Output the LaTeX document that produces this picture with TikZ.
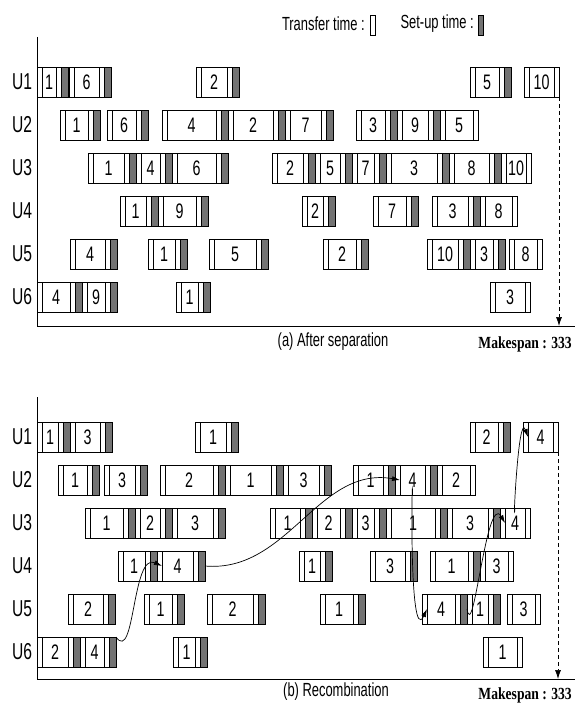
\documentclass[tikz,border=0pt]{standalone}
\usepackage{fontspec}
\usetikzlibrary{arrows.meta}
\newfontfamily\narrowfont[FakeStretch=0.68]{Liberation Sans}
\newfontfamily\spanfont[FakeStretch=0.8]{Liberation Serif}

% one operation: transfer | job | transfer | set-up
\newcommand{\jobop}[5]{% name, left x, row y, box width, label
  \draw[trf] (#2,#3-15) rectangle ++(5,30);
  \node[jobbox, minimum width=#4pt, anchor=west] (#1) at ({#2+5},#3) {#5};
  \draw[trf] ({#2+5+#4},#3-15) rectangle ++(5,30);
  \node[setup, anchor=west] (#1s) at ({#2+10+#4},#3) {};}
% last operation of a run: no set-up after it
\newcommand{\jobend}[5]{%
  \draw[trf] (#2,#3-15) rectangle ++(5,30);
  \node[jobbox, minimum width=#4pt, anchor=west] (#1) at ({#2+5},#3) {#5};
  \draw[trf] ({#2+5+#4},#3-15) rectangle ++(5,30);}

\begin{document}
\begin{tikzpicture}[x=1pt,y=1pt,yscale=-1,
  trf/.style={draw, fill=white, line width=0.8pt},
  setup/.style={draw, fill=black!55, line width=0.8pt, minimum width=7pt, minimum height=30pt, inner sep=0pt, outer sep=0pt},
  jobbox/.style={draw, fill=white, line width=0.8pt, minimum height=30pt, inner sep=0pt, outer sep=0pt, font=\narrowfont\fontsize{21}{21}\selectfont},
  ulabel/.style={font=\narrowfont\fontsize{23}{23}\selectfont, inner sep=0pt},
  txt/.style={font=\narrowfont\fontsize{19}{19}\selectfont, inner sep=0pt},
  span/.style={font=\spanfont\bfseries\fontsize{17}{17}\selectfont, inner sep=0pt, anchor=east},
  axis/.style={line width=0.9pt},
  mkspan/.style={line width=0.7pt, dash pattern=on 4pt off 3pt, -{Latex[length=9pt,width=6pt]}},
  flow/.style={line width=0.7pt, -{Latex[length=8pt,width=5pt]}}]
\useasboundingbox (0,0) rectangle (579,714);

% Legend
\node[txt, anchor=east] (lgT) at (365,24) {Transfer time :};
\node[draw, fill=white, line width=0.7pt, minimum width=5pt, minimum height=20pt, inner sep=0pt, anchor=west] (lgTbox) at (370,25) {};
\node[txt, anchor=east] (lgS) at (474,24) {Set-up time :};
\node[setup, minimum width=5pt, minimum height=20pt, anchor=west] (lgSbox) at (478,25) {};

%%%%%%%%%%%%%%%% (a) After separation
\coordinate (aO) at (37,326);
\draw[axis] (37,37) -- (aO) -- (575,326);
\node[ulabel] (aU1) at (22,82) {U1};
\node[ulabel] (aU2) at (22,125) {U2};
\node[ulabel] (aU3) at (22,168) {U3};
\node[ulabel] (aU4) at (22,211) {U4};
\node[ulabel] (aU5) at (22,254) {U5};
\node[ulabel] (aU6) at (22,297) {U6};

% U1
\jobop{a1p1}{37}{82}{14}{1}
\jobop{a1p2}{69}{82}{25}{6}
\jobop{a1p3}{196}{82}{26}{2}
\jobop{a1p4}{470}{82}{24}{5}
\jobend{a1p5}{524}{82}{25}{10}
% U2
\jobop{a2p1}{60}{125}{23}{1}
\jobop{a2p2}{107}{125}{24}{6}
\jobop{a2p3}{162}{125}{49}{4}
\jobop{a2p4}{228}{125}{40}{2}
\jobop{a2p5}{285}{125}{31}{7}
\jobop{a2p6}{356}{125}{24}{3}
\jobop{a2p7}{397}{125}{26}{9}
\jobend{a2p8}{440}{125}{28}{5}
% U3
\jobop{a3p1}{88}{168}{31}{1}
\jobop{a3p2}{136}{168}{19}{4}
\jobop{a3p3}{172}{168}{39}{6}
\jobop{a3p4}{272}{168}{26}{2}
\jobop{a3p5}{315}{168}{20}{5}
\jobop{a3p6}{352}{168}{17}{7}
\jobop{a3p7}{386}{168}{46}{3}
\jobop{a3p8}{449}{168}{35}{8}
\jobend{a3p9}{501}{168}{20}{10}
% U4
\jobop{a4p1}{120}{211}{21}{1}
\jobop{a4p2}{158}{211}{33}{9}
\jobop{a4p3}{302}{211}{16}{2}
\jobop{a4p4}{373}{211}{28}{7}
\jobop{a4p5}{432}{211}{31}{3}
\jobend{a4p6}{480}{211}{27}{8}
% U5
\jobop{a5p1}{70}{254}{30}{4}
\jobop{a5p2}{148}{254}{22}{1}
\jobop{a5p3}{209}{254}{42}{5}
\jobop{a5p4}{323}{254}{28}{2}
\jobop{a5p5}{427}{254}{26}{10}
\jobop{a5p6}{470}{254}{18}{3}
\jobend{a5p7}{509}{254}{23}{8}
% U6
\jobop{a6p1}{37}{297}{28}{4}
\jobop{a6p2}{82}{297}{18}{9}
\jobop{a6p3}{176}{297}{17}{1}
\jobend{a6p4}{490}{297}{30}{3}

\coordinate (amsTop) at (559,97);
\coordinate (amsBot) at (559,326);
\draw[mkspan] (amsTop) -- (amsBot);
\node[txt] (capA) at (333,342) {(a) After separation};
\node[span] (spanA) at (572,344) {Makespan : 333};

%%%%%%%%%%%%%%%% (b) Recombination
\coordinate (bO) at (37,679);
\draw[axis] (37,397) -- (bO) -- (575,679);
\node[ulabel] (bU1) at (22,437) {U1};
\node[ulabel] (bU2) at (22,480) {U2};
\node[ulabel] (bU3) at (22,523) {U3};
\node[ulabel] (bU4) at (22,566) {U4};
\node[ulabel] (bU5) at (22,609) {U5};
\node[ulabel] (bU6) at (22,652) {U6};

% U1
\jobop{b1p1}{37}{437}{16}{1}
\jobop{b1p2}{70}{437}{25}{3}
\jobop{b1p3}{195}{437}{26}{1}
\jobop{b1p4}{470}{437}{23}{2}
\jobend{b1p5}{523}{437}{25}{4}
% U2
\jobop{b2p1}{58}{480}{24}{1}
\jobop{b2p2}{104}{480}{26}{3}
\jobop{b2p3}{160}{480}{48}{2}
\jobop{b2p4}{225}{480}{41}{1}
\jobop{b2p5}{283}{480}{31}{3}
\jobop{b2p6}{353}{480}{25}{1}
\jobop{b2p7}{395}{480}{25}{4}
\jobend{b2p8}{437}{480}{28}{2}
% U3
\jobop{b3p1}{85}{523}{33}{1}
\jobop{b3p2}{135}{523}{20}{2}
\jobop{b3p3}{172}{523}{36}{3}
\jobop{b3p4}{270}{523}{25}{1}
\jobop{b3p5}{312}{523}{23}{2}
\jobop{b3p6}{352}{523}{17}{3}
\jobop{b3p7}{386}{523}{44}{1}
\jobop{b3p8}{447}{523}{36}{3}
\jobend{b3p9}{500}{523}{20}{4}
% U4
\jobop{b4p1}{118}{566}{22}{1}
\jobop{b4p2}{157}{566}{31}{4}
\jobop{b4p3}{299}{566}{16}{1}
\jobop{b4p4}{370}{566}{30}{3}
\jobop{b4p5}{430}{566}{33}{1}
\jobend{b4p6}{480}{566}{23}{3}
% U5
\jobop{b5p1}{68}{609}{30}{2}
\jobop{b5p2}{144}{609}{23}{1}
\jobop{b5p3}{207}{609}{41}{2}
\jobop{b5p4}{320}{609}{28}{1}
\jobop{b5p5}{422}{609}{28}{4}
\jobop{b5p6}{467}{609}{16}{1}
\jobend{b5p7}{507}{609}{23}{3}
% U6
\jobop{b6p1}{37}{652}{26}{2}
\jobop{b6p2}{80}{652}{19}{4}
\jobop{b6p3}{173}{652}{17}{1}
\jobend{b6p4}{483}{652}{29}{1}

% path of job 4
\draw[flow] (b6p2s.north east) to[out=55,in=205] (b4p2.west);
\draw[flow] (b4p2s.east) to[out=5,in=190] (b2p7.west);
\draw[flow] (b2p7.south) to[out=-90,in=115] (b5p5.west);
\draw[flow] (b5p5s.east) to[out=80,in=240] (b3p9.west);
\draw[flow] (b3p9.north) to[out=95,in=250] (b1p5.west);

\coordinate (bmsTop) at (558,452);
\coordinate (bmsBot) at (558,679);
\draw[mkspan] (bmsTop) -- (bmsBot);
\node[txt] (capB) at (336,692) {(b) Recombination};
\node[span] (spanB) at (572,695) {Makespan : 333};
\end{tikzpicture}
\end{document}
